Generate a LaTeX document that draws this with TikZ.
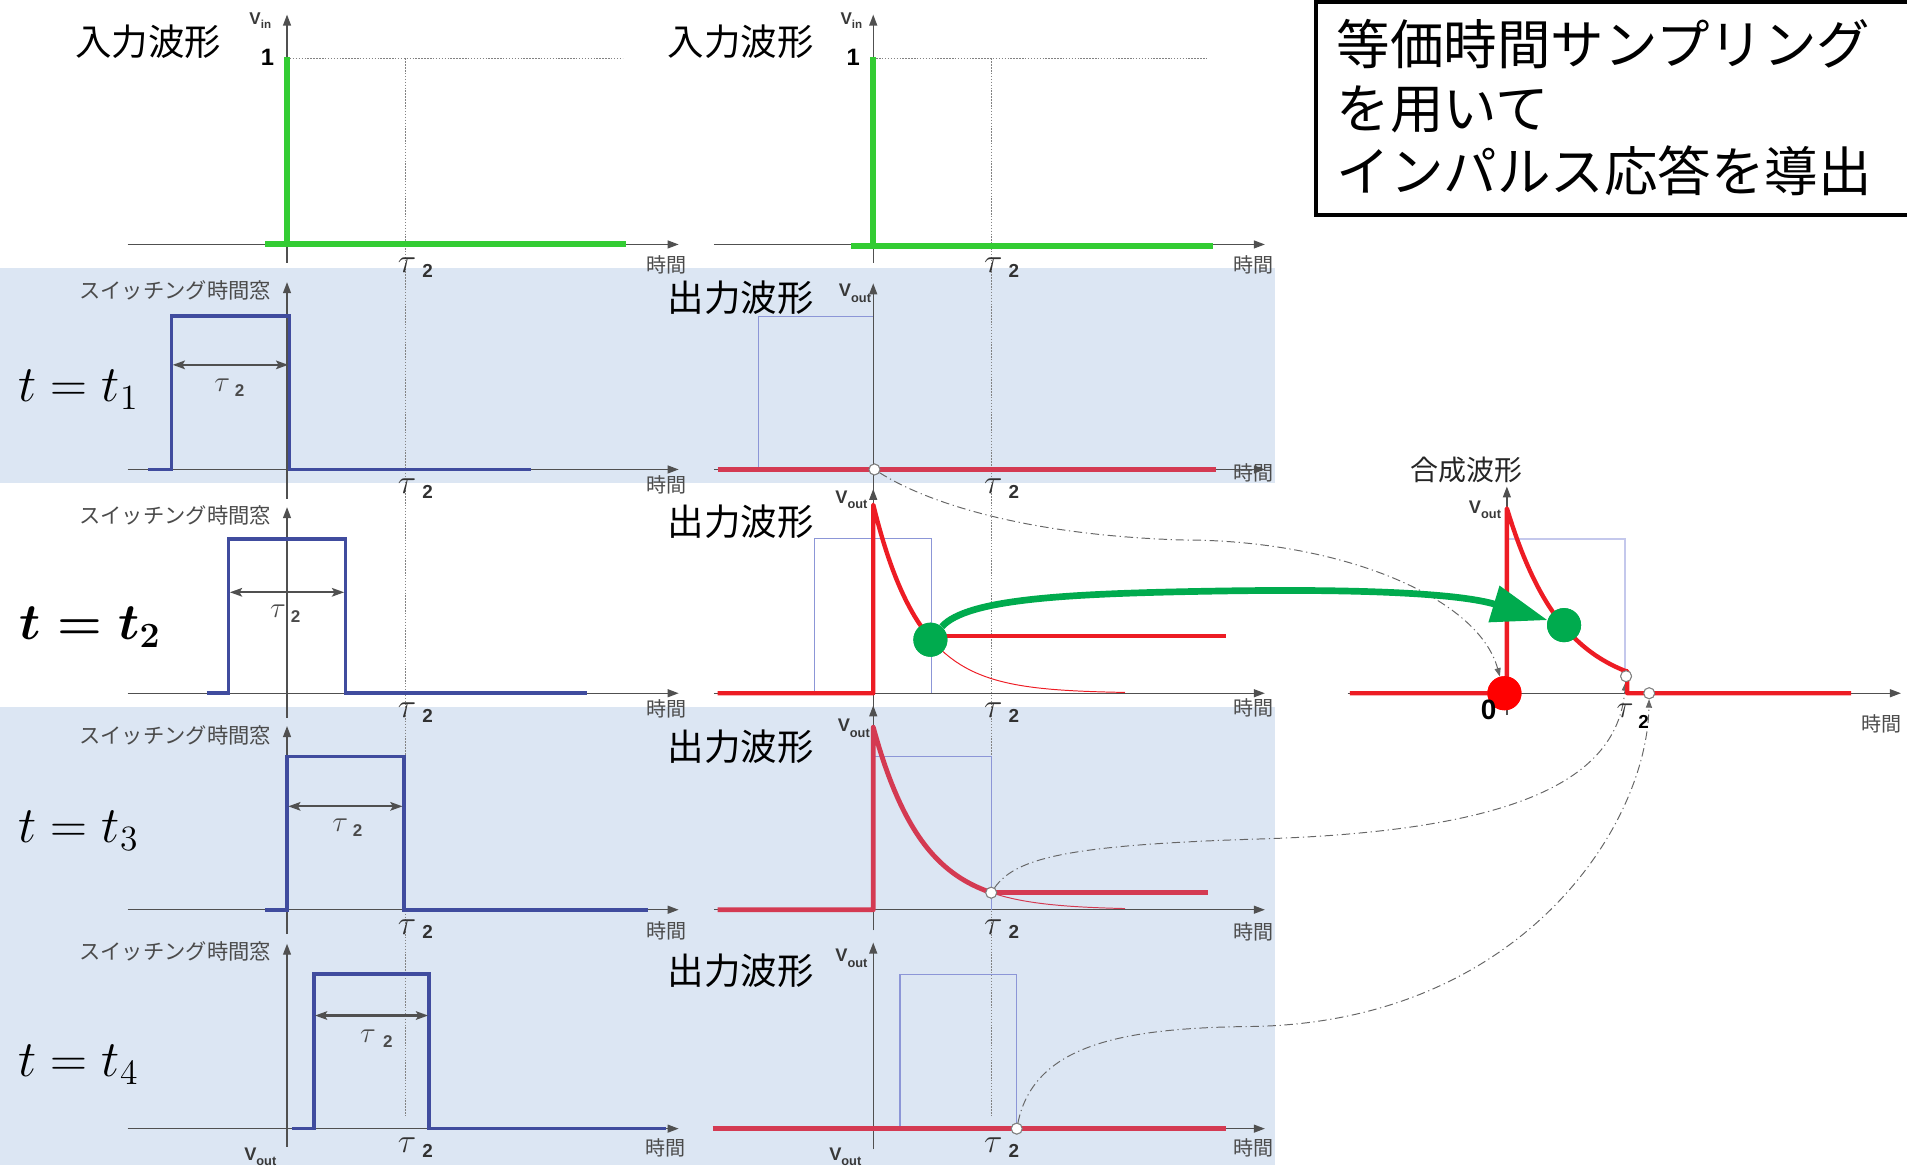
\documentclass[tikz,border=0pt]{standalone}
\usepackage{fontspec}
\newfontfamily\jp{Noto Sans CJK JP}
\newfontfamily\arl{Liberation Sans}
\usetikzlibrary{arrows.meta}
\definecolor{band}{RGB}{220,230,243}
\definecolor{axg}{RGB}{80,80,80}
\definecolor{txtg}{RGB}{75,75,75}
\definecolor{taug}{RGB}{50,50,50}
\definecolor{win}{RGB}{64,76,158}
\definecolor{thinwin}{RGB}{140,150,215}
\definecolor{thinwinl}{RGB}{196,200,236}
\definecolor{redA}{RGB}{212,58,82}
\definecolor{redB}{RGB}{237,28,36}
\definecolor{lime}{RGB}{51,204,51}
\definecolor{gdot}{RGB}{0,171,78}
\definecolor{dotg}{RGB}{130,130,130}
\newcommand{\mytau}[1]{\scalebox{#1}{\fontsize{14.4}{15}\selectfont$\tau$}}
\newcommand{\tautwo}[3][5pt]{\mytau{#3}\hspace{#1}\raisebox{-4pt}{\arl\bfseries\fontsize{#2}{#2}\selectfont 2}}
\newcommand{\Vl}[1]{\arl\bfseries\fontsize{15}{15}\selectfont V\raisebox{-4.5pt}{\fontsize{10.5}{10.5}\selectfont #1}}
\newcommand{\Vs}[1]{\arl\bfseries\fontsize{14}{14}\selectfont V\raisebox{-4pt}{\fontsize{9.5}{9.5}\selectfont #1}}
\newcommand{\eqbox}[1]{\scalebox{2.03}{\fontsize{20.74}{21}\selectfont #1}}
\tikzset{
  axis/.style={draw=axg, line width=1.1pt, -{Triangle[length=9pt,width=6.5pt]}},
  dotl/.style={draw=dotg, line width=0.7pt, dash pattern=on 1.2pt off 1.2pt},
  inwave/.style={draw=lime, line width=5pt},
  winl/.style={draw=win, line width=3pt},
  thinr/.style={draw=thinwin, line width=0.9pt},
  dbl/.style={draw=axg, line width=1.8pt, {Stealth[length=10pt,width=7pt,inset=2pt]}-{Stealth[length=10pt,width=7pt,inset=2pt]}},
  redthA/.style={draw=redA, line width=4pt},
  redthB/.style={draw=redB, line width=3.6pt},
  tail/.style={line width=0.8pt},
  conn/.style={draw=gray!80!black, line width=0.8pt, dash pattern=on 7pt off 3pt on 1pt off 3pt, -{Triangle[length=7pt,width=5pt]}},
  jpbig/.style={inner sep=0, font=\jp\fontsize{30}{30}\selectfont},
  jpsw/.style={inner sep=0, anchor=east, text=txtg, font=\jp\fontsize{17.5}{18}\selectfont},
  tlab/.style={inner sep=0, text=txtg, font=\jp\fontsize{16.5}{17}\selectfont},
  taul/.style={inner sep=0, anchor=base west, text=taug},
  taui/.style={inner sep=0, anchor=base west, text=txtg},
  vlab/.style={inner sep=0, text=axg!70!black},
  num/.style={inner sep=0, font=\arl\bfseries\fontsize{19.5}{20}\selectfont},
  eqn/.style={inner sep=0, anchor=base west},
  wcirc/.style={circle, draw=gray, fill=white, line width=0.8pt, minimum size=9pt, inner sep=0},
  bigdot/.style={circle, minimum size=28pt, inner sep=0},
}
\begin{document}
\begin{tikzpicture}[x=1pt,y=-1pt]
\useasboundingbox (0,0) rectangle (1568,958);
% background bands
\fill[band] (0,220) rectangle (1048,397);
\fill[band] (0,581) rectangle (1048,958);
% dotted guides
\draw[dotl] (236,48) -- (512,48);
\draw[dotl] (718,48) -- (993,48);
\draw[dotl] (333,48) -- (333,918);
\draw[dotl] (815,48) -- (815,918);
% horizontal axes
\foreach \yy in {201,386,570,748,928}{
  \draw[axis] (105,\yy) -- (558,\yy);
  \draw[axis] (587,\yy) -- (1040,\yy);
}
% vertical axes
\draw[axis] (236,216) -- (236,12);
\draw[axis] (236,410) -- (236,232);
\draw[axis] (236,590) -- (236,417);
\draw[axis] (236,768) -- (236,597);
\draw[axis] (236,943) -- (236,776);
\draw[axis] (718,216) -- (718,12);
\draw[axis] (718,405) -- (718,233);
\draw[axis] (718,590) -- (718,402);
\draw[axis] (718,765) -- (718,580);
\draw[axis] (718,945) -- (718,775);
\draw[axis] (1239,588) -- (1239,400);
\draw[axis] (1108,570) -- (1563,570);
% input waveforms
\draw[inwave] (218,201) -- (515,201);
\draw[inwave] (236,201) -- (236,47);
\draw[inwave] (700,202) -- (997,202);
\draw[inwave] (718,202) -- (718,47);
% switching windows
\draw[winl] (122,386) -- (141,386) -- (141,260) -- (238,260) -- (238,386) -- (437,386);
\draw[winl] (170,570) -- (188,570) -- (188,443) -- (284,443) -- (284,570) -- (483,570);
\draw[winl] (218,748) -- (236,748) -- (236,622) -- (332,622) -- (332,748) -- (533,748);
\draw[winl] (240,928) -- (258,928) -- (258,801) -- (353,801) -- (353,928) -- (548,928);
\draw[dbl] (142,300) -- (237,300);
\draw[dbl] (189,487) -- (283,487);
\draw[dbl] (237,663) -- (331,663);
\draw[dbl] (259,835) -- (352,835);
% thin windows in output column
\draw[thinr] (624,386) -- (624,260) -- (718,260);
\draw[thinr] (670,570) -- (670,443) -- (766,443) -- (766,570);
\draw[thinr] (718,622) -- (815,622) -- (815,748);
\draw[thinr] (740,928) -- (740,801) -- (836,801) -- (836,928);
\draw[draw=thinwinl, line width=1.2pt] (1239,443) -- (1336,443) -- (1336,553);
% connectors (drawn under waveforms)
\node[wcirc] (c1) at (719,386) {};
\node[wcirc] (c3) at (815,734) {};
\node[wcirc] (c4) at (836,928) {};
\node[wcirc] (k1) at (1337,556) {};
\node[wcirc] (k2) at (1356,570) {};
\node[bigdot, fill=red] (rdot) at (1237,570) {};
\node[bigdot, fill=gdot] (g2) at (765,526) {};
\node[bigdot, fill=gdot] (gk) at (1286,514) {};
\draw[conn] (c1) .. controls (760,412) and (840,440) .. (973,444)
               .. controls (1100,444) and (1215,490) .. (rdot);
\draw[conn] (c3) .. controls (835,705) and (880,695) .. (1030,690)
               .. controls (1250,684) and (1330,640) .. (k1);
\draw[conn] (c4) .. controls (850,860) and (920,845) .. (1030,844)
               .. controls (1250,840) and (1354,680) .. (k2);
% output waveforms
\draw[redthA] (590,386) -- (1000,386);
\draw[redB, tail] plot[domain=765:925, samples=40] ({\x},{570-155*exp(-(\x-718)/38)});
\draw[redthB, line join=round] (590,570) -- (718,570) -- (718,415) -- plot[domain=718:765, samples=30] ({\x},{570-155*exp(-(\x-718)/38)});
\draw[redthB] (765,523) -- (1008,523);
\draw[redA, tail] plot[domain=815:925, samples=40] ({\x},{748-150*exp(-(\x-718)/41)});
\draw[redthA, line join=round] (590,748) -- (718,748) -- (718,598) -- plot[domain=718:815, samples=40] ({\x},{748-150*exp(-(\x-718)/41)});
\draw[redthA] (815,734) -- (993,734);
\draw[redthA] (586,928) -- (1008,928);
% composite waveform
\draw[redthB, line join=round] (1110,570) -- (1239,570) -- (1239,418) -- plot[domain=1239:1336, samples=40] ({\x},{570-152*exp(-(\x-1239)/46)}) -- (1338,552) -- (1338,570) -- (1522,570);
% redraw circles and dots on top
\node[wcirc] at (c1) {};
\node[wcirc] at (c3) {};
\node[wcirc] at (c4) {};
\node[wcirc] at (k1) {};
\node[wcirc] at (k2) {};
\node[bigdot, fill=red] at (rdot) {};
\node[bigdot, fill=gdot] at (g2) {};
% green arrow
\draw[draw=gdot, line width=5.5pt, -{Triangle[length=46pt,width=30pt]}] (g2) .. controls (795,492) and (880,488) .. (1000,486) .. controls (1120,484) and (1200,488) .. (gk);
\node[bigdot, fill=gdot] at (gk) {};
% title box
\draw[line width=3.5pt] (1580,1.5) -- (1082,1.5) -- (1082,177) -- (1580,177);
\node[anchor=west, align=left, inner sep=0, font=\jp\fontsize{44}{52.5}\selectfont] (title) at (1099,88.5) {等価時間サンプリング\\を用いて\\インパルス応答を導出};
% Japanese headings
\node[jpbig] (in1) at (122,34) {入力波形};
\node[jpbig] (in2) at (609,34) {入力波形};
\node[jpbig] (out1) at (609,245) {出力波形};
\node[jpbig] (out2) at (609,429) {出力波形};
\node[jpbig] (out3) at (609,614) {出力波形};
\node[jpbig] (out4) at (609,798) {出力波形};
\node[inner sep=0, text=black!85, font=\jp\fontsize{23}{23}\selectfont] (comp) at (1206,386) {合成波形};
\node[jpsw] (sw1) at (223,239) {スイッチング時間窓};
\node[jpsw] (sw2) at (223,424) {スイッチング時間窓};
\node[jpsw] (sw3) at (223,605) {スイッチング時間窓};
\node[jpsw] (sw4) at (223,782) {スイッチング時間窓};
% time labels
\node[tlab] (ta0) at (548,218) {時間};
\node[tlab] (tb0) at (1031,218) {時間};
\node[tlab] (ta1) at (548,399) {時間};
\node[tlab] (tb1) at (1031,389) {時間};
\node[tlab] (ta2) at (548,583) {時間};
\node[tlab] (tb2) at (1031,582) {時間};
\node[tlab] (ta3) at (548,765) {時間};
\node[tlab] (tb3) at (1031,766) {時間};
\node[tlab] (ta4) at (547,944) {時間};
\node[tlab] (tb4) at (1031,944) {時間};
\node[tlab] (tk) at (1547,595) {時間};
% tau labels under axes
\node[taul] (ua0) at (327,224) {\tautwo{15.5}{1.95}};
\node[taul] (ub0) at (809,224) {\tautwo{15.5}{1.95}};
\node[taul] (ua1) at (327,406) {\tautwo{15.5}{1.95}};
\node[taul] (ub1) at (809,406) {\tautwo{15.5}{1.95}};
\node[taul] (ua2) at (327,590) {\tautwo{15.5}{1.95}};
\node[taul] (ub2) at (809,590) {\tautwo{15.5}{1.95}};
\node[taul] (ua3) at (327,768) {\tautwo{15.5}{1.95}};
\node[taul] (ub3) at (809,768) {\tautwo{15.5}{1.95}};
\node[taul] (ua4) at (327,948) {\tautwo{15.5}{1.95}};
\node[taul] (ub4) at (809,948) {\tautwo{15.5}{1.95}};
% tau labels inside windows
\node[taui] (w1) at (176,322) {\tautwo[4pt]{14}{1.67}};
\node[taui] (w2) at (222,508) {\tautwo[4pt]{14}{1.67}};
\node[taui] (w3) at (273,684) {\tautwo[4pt]{14}{1.67}};
\node[taui] (w4) at (296,857) {\tautwo[6pt]{14}{1.67}};
% composite axis labels
\node[inner sep=0, anchor=base west, text=taug] (ktau) at (1329,590) {\mytau{1.8}};
\node[inner sep=0, anchor=base west, font=\arl\bfseries\fontsize{15.5}{16}\selectfont] (ktwo) at (1347,599) {2};
\node[inner sep=0, font=\arl\bfseries\fontsize{23}{23}\selectfont] (zero) at (1224,584) {0};
% V labels
\node[vlab] (vin1) at (214,17) {\Vs{in}};
\node[vlab] (vin2) at (700,17) {\Vs{in}};
\node[vlab] (vo1) at (703,241) {\Vl{out}};
\node[vlab] (vo2) at (700,411) {\Vl{out}};
\node[vlab] (vo3) at (702,599) {\Vl{out}};
\node[vlab] (vo4) at (700,788) {\Vl{out}};
\node[vlab] (vob1) at (214,951) {\Vl{out}};
\node[vlab] (vob2) at (695,951) {\Vl{out}};
\node[vlab] (vok) at (1221,419) {\Vl{out}};
\node[num] (one1) at (220,47) {1};
\node[num] (one2) at (701.5,47) {1};
% equations
\node[eqn] (e1) at (15,330) {\eqbox{$t = t_1$}};
\node[eqn] (e2) at (16,526) {\eqbox{\boldmath$t = t_2$}};
\node[eqn] (e3) at (15,693) {\eqbox{$t = t_3$}};
\node[eqn] (e4) at (15,885) {\eqbox{$t = t_4$}};
\end{tikzpicture}
\end{document}
